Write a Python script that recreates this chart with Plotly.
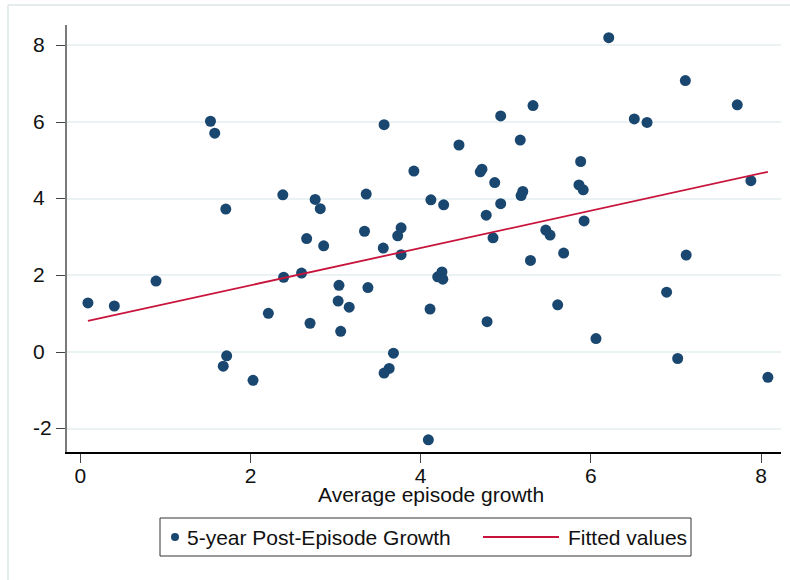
import plotly.graph_objects as go

# Average growth during the episode vs. growth in the five years after it
episode_growth = [
    0.09, 0.40, 0.89, 1.53, 1.58, 1.68, 1.71, 1.72, 2.03, 2.21,
    2.38, 2.39, 2.60, 2.66, 2.70, 2.76, 2.82, 2.86, 3.03, 3.04,
    3.06, 3.16, 3.34, 3.36, 3.38, 3.56, 3.57, 3.57, 3.63, 3.68,
    3.73, 3.77, 3.77, 3.92, 4.09, 4.11, 4.12, 4.20, 4.25, 4.26,
    4.27, 4.45, 4.70, 4.72, 4.77, 4.78, 4.85, 4.87, 4.94, 4.94,
    5.17, 5.18, 5.20, 5.29, 5.32, 5.47, 5.52, 5.61, 5.68, 5.86,
    5.88, 5.91, 5.92, 6.06, 6.21, 6.51, 6.66, 6.89, 7.02, 7.11,
    7.12, 7.72, 7.88, 8.08,
]
post_growth = [
    1.28, 1.20, 1.85, 6.02, 5.71, -0.37, 3.73, -0.10, -0.74, 1.01,
    4.10, 1.95, 2.06, 2.96, 0.75, 3.98, 3.74, 2.77, 1.33, 1.74,
    0.54, 1.17, 3.15, 4.12, 1.68, 2.71, 5.93, -0.55, -0.43, -0.03,
    3.03, 3.24, 2.54, 4.72, -2.29, 1.12, 3.97, 1.96, 2.09, 1.90,
    3.84, 5.40, 4.70, 4.77, 3.57, 0.79, 2.98, 4.42, 6.16, 3.87,
    5.53, 4.08, 4.19, 2.39, 6.43, 3.18, 3.05, 1.23, 2.58, 4.36,
    4.97, 4.23, 3.42, 0.35, 8.20, 6.08, 5.99, 1.56, -0.17, 7.08,
    2.53, 6.45, 4.47, -0.66,
]

# Fitted values at the ends of the sample range
fitted_x = [0.09, 8.08]
fitted_y = [0.81, 4.70]

x_ticks = [0, 2, 4, 6, 8]
y_ticks = [-2, 0, 2, 4, 6, 8]

NAVY = "#1a476f"
RED = "#c8143c"
GRID = "#eaf2f3"
FONT = "Liberation Sans, Arial, sans-serif"

# Figure size and plot-area edges in pixels
W, H = 790, 580
L, R, T, B = 67, 781, 25, 452


def px(xp):
    return (xp - L) / (R - L)


def py(yp):
    return (B - yp) / (B - T)


fig = go.Figure()
fig.add_trace(go.Scatter(
    x=episode_growth, y=post_growth, mode="markers",
    marker=dict(color=NAVY, size=11, line=dict(width=0)),
    name="5-year Post-Episode Growth", showlegend=False,
))
fig.add_trace(go.Scatter(
    x=fitted_x, y=fitted_y, mode="lines",
    line=dict(color=RED, width=1.8),
    name="Fitted values", showlegend=False,
))

annotations = []
# y tick labels, left-justified
for v in y_ticks:
    annotations.append(dict(
        x=px(30.5), xref="paper", y=v, yref="y",
        text=str(v), showarrow=False, xanchor="left", yanchor="middle",
        yshift=1, font=dict(family=FONT, size=21, color="#111"),
    ))
# x-axis title
annotations.append(dict(
    x=px(431), xref="paper", y=py(494), yref="paper",
    text="Average episode growth", showarrow=False,
    xanchor="center", yanchor="middle",
    font=dict(family=FONT, size=21, color="#111"),
))
# legend texts
annotations.append(dict(
    x=px(185), xref="paper", y=py(537), yref="paper",
    text="5-year Post-Episode Growth", showarrow=False,
    xanchor="left", yanchor="middle",
    font=dict(family=FONT, size=21, color="#111"),
))
annotations.append(dict(
    x=px(566), xref="paper", y=py(537), yref="paper",
    text="Fitted values", showarrow=False,
    xanchor="left", yanchor="middle",
    font=dict(family=FONT, size=21, color="#111"),
))

shapes = [
    # outer graph-region border
    dict(type="line", xref="paper", yref="paper",
         x0=px(8), x1=px(800), y0=py(5), y1=py(5),
         line=dict(color="#e4ecee", width=2)),
    dict(type="line", xref="paper", yref="paper",
         x0=px(8), x1=px(8), y0=py(5), y1=py(600),
         line=dict(color="#e4ecee", width=2)),
    # legend frame
    dict(type="rect", xref="paper", yref="paper",
         x0=px(160), x1=px(691), y0=py(556), y1=py(518),
         line=dict(color="#333333", width=1), fillcolor="white"),
    # legend key: marker
    dict(type="circle", xref="paper", yref="paper",
         x0=px(171), x1=px(179), y0=py(541), y1=py(533),
         line=dict(width=0), fillcolor=NAVY),
    # legend key: line
    dict(type="line", xref="paper", yref="paper",
         x0=px(483), x1=px(559), y0=py(537), y1=py(537),
         line=dict(color=RED, width=1.8)),
]

fig.update_layout(
    width=W, height=H,
    margin=dict(l=L, r=W - R, t=T, b=H - B, pad=0),
    paper_bgcolor="white", plot_bgcolor="white",
    font=dict(family=FONT, size=21, color="#111"),
    showlegend=False,
    annotations=annotations,
    shapes=shapes,
    xaxis=dict(
        range=[-0.156, 8.234], tickvals=x_ticks, ticktext=[str(v) for v in x_ticks],
        showgrid=False, zeroline=False,
        showline=True, linecolor="#000000", linewidth=1.5,
        ticks="outside", ticklen=9, tickwidth=1.2, tickcolor="#444444",
        tickfont=dict(family=FONT, size=21, color="#111"),
        ticklabelstandoff=-5,
    ),
    yaxis=dict(
        range=[-2.609, 8.531], tickvals=y_ticks,
        showticklabels=False,
        showgrid=True, gridcolor=GRID, gridwidth=1.6, zeroline=False,
        showline=True, linecolor="#7a7a7a", linewidth=1.5,
        ticks="outside", ticklen=9, tickwidth=1.2, tickcolor="#444444",
    ),
)

fig.write_html("out.html")
